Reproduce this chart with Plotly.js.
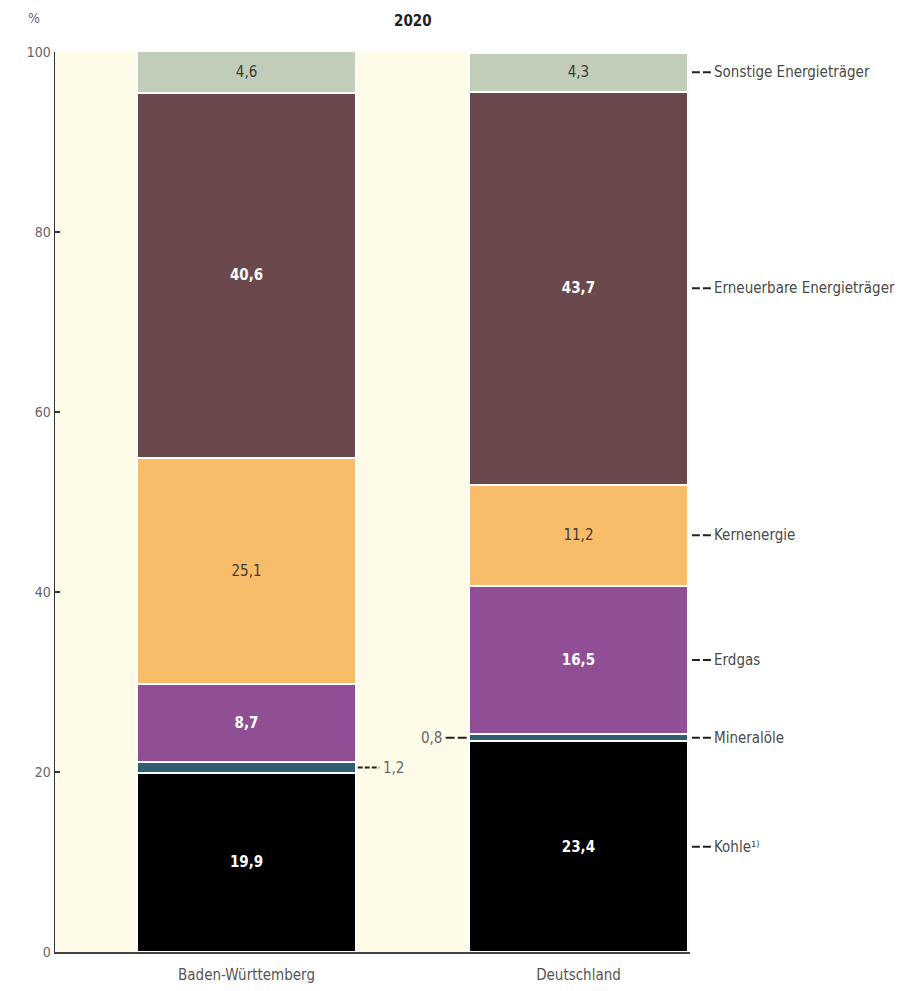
<!DOCTYPE html>
<html>
<head>
<meta charset="utf-8">
<script src="https://cdn.plot.ly/plotly-3.0.1.min.js"></script>
<style>html,body{margin:0;padding:0;background:#fff;}#chart{width:921px;height:991px;}</style>
</head>
<body>
<div id="chart"></div>
<script>
const regions = ['Baden-Württemberg', 'Deutschland'];
const seriesNames = ['Kohle¹⁾', 'Mineralöle', 'Erdgas', 'Kernenergie', 'Erneuerbare Energieträger', 'Sonstige Energieträger'];
const kohle = [19.9, 23.4];
const mineraloele = [1.2, 0.8];
const erdgas = [8.7, 16.5];
const kernenergie = [25.1, 11.2];
const erneuerbare = [40.6, 43.7];
const sonstige = [4.6, 4.3];
const yTicks = [0, 20, 40, 60, 80, 100];

const values = [kohle, mineraloele, erdgas, kernenergie, erneuerbare, sonstige];
const colors = ['#000000', '#2f5f70', '#904f94', '#f9bd6a', '#6b484b', '#c2cdb9'];
const textColors = ['#ffffff', '#ffffff', '#ffffff', '#3a3a3a', '#ffffff', '#3a3a3a'];
const textBold = [true, false, true, false, true, false];
const showText = [true, false, true, true, true, true];
const FONT = '"Liberation Sans Narrow", "DejaVu Sans Condensed", Arial, sans-serif';
const fmt = v => v.toFixed(1).replace('.', ',');

const traces = values.map((vals, i) => ({
  type: 'bar',
  name: seriesNames[i],
  x: regions,
  y: vals,
  width: 0.66,
  marker: {color: colors[i], line: {color: '#ffffff', width: 2}},
  text: showText[i] ? vals.map(v => textBold[i] ? '<b>' + fmt(v) + '</b>' : fmt(v)) : vals.map(() => ''),
  textposition: showText[i] ? 'inside' : 'none',
  insidetextanchor: 'middle',
  textangle: 0,
  constraintext: 'none',
  textfont: {family: FONT, size: 15, color: textColors[i]},
  hoverinfo: 'skip'
}));

const annotations = [];
const shapes = [];
let cum = [0, 0];
const mids = [[], []];
values.forEach((vals, i) => {
  for (let j = 0; j < 2; j++) {
    mids[j].push(cum[j] + vals[j] / 2);
    cum[j] += vals[j];
  }
});

seriesNames.forEach((name, i) => {
  const y = mids[1][i];
  shapes.push({type: 'line', xref: 'paper', yref: 'y', x0: 1.003, x1: 1.034, y0: y, y1: y,
    line: {color: '#222', width: 2, dash: '8px,3px'}});
  annotations.push({xref: 'paper', yref: 'y', x: 1.035, y: y, xanchor: 'left', yanchor: 'middle',
    text: name, showarrow: false, font: {family: FONT, size: 15, color: '#4a4a4a'}});
});

const yBW = mids[0][1];
shapes.push({type: 'line', xref: 'x', yref: 'y', x0: 0.335, x1: 0.40, y0: yBW, y1: yBW,
  line: {color: '#222', width: 2, dash: '5px,2px'}});
annotations.push({xref: 'x', yref: 'y', x: 0.405, y: yBW, xanchor: 'left', yanchor: 'middle',
  text: fmt(mineraloele[0]), showarrow: false, font: {family: FONT, size: 15, color: '#666'}});
const yD = mids[1][1];
shapes.push({type: 'line', xref: 'x', yref: 'y', x0: 0.60, x1: 0.668, y0: yD, y1: yD,
  line: {color: '#222', width: 2, dash: '9px,3px'}});
annotations.push({xref: 'x', yref: 'y', x: 0.595, y: yD, xanchor: 'right', yanchor: 'middle',
  text: fmt(mineraloele[1]), showarrow: false, font: {family: FONT, size: 15, color: '#666'}});

annotations.push({xref: 'paper', yref: 'paper', x: -0.045, y: 1.038, xanchor: 'left', yanchor: 'middle',
  text: '%', showarrow: false, font: {family: FONT, size: 14, color: '#666'}});
annotations.push({xref: 'paper', yref: 'paper', x: 0.563, y: 1.035, xanchor: 'center', yanchor: 'middle',
  text: '<b>2020</b>', showarrow: false, font: {family: FONT, size: 15, color: '#222'}});

const layout = {
  width: 921, height: 991,
  margin: {l: 55, r: 231, t: 52, b: 39},
  barmode: 'stack',
  showlegend: false,
  paper_bgcolor: '#ffffff',
  plot_bgcolor: '#fffbe9',
  font: {family: FONT},
  xaxis: {
    type: 'category', range: [-0.577, 1.336], showgrid: false, zeroline: false,
    showline: true, linecolor: '#444', linewidth: 1.5,
    ticks: '', tickfont: {family: FONT, size: 15, color: '#555'}, ticklabelstandoff: 8
  },
  yaxis: {
    range: [0, 100], tickvals: yTicks, ticktext: yTicks.map(String),
    showgrid: false, zeroline: false, showline: true, linecolor: '#333', linewidth: 1.5,
    ticks: 'inside', ticklen: 5, tickwidth: 1.5, tickcolor: '#333',
    tickfont: {family: FONT, size: 14, color: '#666'}
  },
  shapes: shapes,
  annotations: annotations
};

Plotly.newPlot('chart', traces, layout, {displayModeBar: false, staticPlot: true});
</script>
</body>
</html>
